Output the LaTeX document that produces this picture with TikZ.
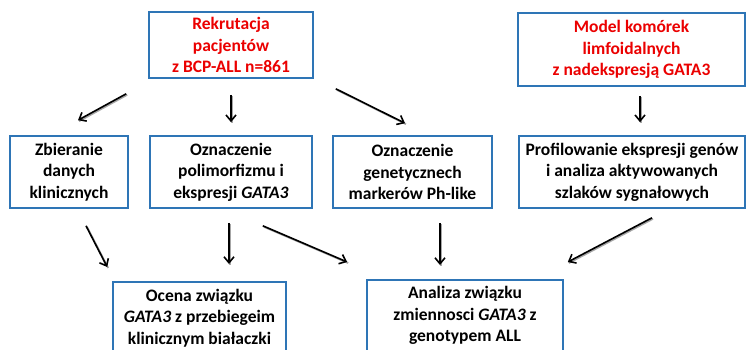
\documentclass[tikz,border=0pt]{standalone}
\usepackage{fontspec}
\setmainfont{Carlito}
\usepackage{xcolor}
\usepackage{tikz}
\usetikzlibrary{positioning}
\usetikzlibrary{arrows.meta}
\usetikzlibrary{shadows}
\definecolor{boxblue}{RGB}{46,117,182}
\definecolor{titlered}{RGB}{235,0,0}

\begin{document}
\begin{tikzpicture}[x=1pt,y=1pt,
  box/.style={draw=boxblue, line width=1.6pt, fill=white, align=center,
    inner sep=2pt, minimum height=72pt,
    font=\fontsize{17.5}{21.5}\selectfont\bfseries,
    drop shadow={opacity=0.35, shadow xshift=1.2pt, shadow yshift=-1.2pt}},
  arr/.style={line width=1.6pt, -{Straight Barb[length=6pt,width=10pt]},
    preaction={draw=black!35, line width=1.8pt, transform canvas={xshift=1pt,yshift=-1pt}, -}}]
\useasboundingbox (0,0) rectangle (755,-349);
% top line
\node[box, text=titlered, minimum width=164pt, minimum height=66pt] (recruit) at (231,-45)
  {Rekrutacja\\pacjentów\\z BCP-ALL n=861};
\node[box, text=titlered, minimum width=227pt, minimum height=73pt] (model) at (631.5,-49.5)
  {Model komórek\\limfoidalnych\\z nadekspresją GATA3};
% second line
\node[box, minimum width=162pt] (polim) [below=56.4pt of recruit]
  {Oznaczenie\\polimorfizmu i\\ekspresji \textit{GATA3}};
\node[box, minimum width=118pt] (clinic) [left=20.4pt of polim]
  {Zbieranie\\danych\\klinicznych};
\node[box, minimum width=159pt] (phlike) [right=19.4pt of polim]
  {Oznaczenie\\genetycznech\\markerów Ph-like};
\node[box, minimum width=226pt] (profile) [right=25.4pt of phlike]
  {Profilowanie ekspresji genów\\i analiza aktywowanych\\szlaków sygnałowych};
% third line
\node[box, minimum width=173pt, anchor=north] (course) at (199.5,-281)
  {Ocena związku\\\textit{GATA3} z przebiegeim\\klinicznym białaczki};
\node[box, minimum width=196pt, anchor=north] (genotype) at (465,-279)
  {Analiza związku\\zmiennosci \textit{GATA3} z\\genotypem ALL};
% arrows
\draw[arr] ([xshift=-22pt,yshift=-15pt]recruit.south west) -- ([xshift=9pt,yshift=15pt]clinic.north);
\draw[arr] ([yshift=-16pt]recruit.south) -- ([yshift=13pt]polim.north);
\draw[arr] ([xshift=22pt,yshift=-10pt]recruit.south east) -- ([xshift=-7.5pt,yshift=12pt]phlike.north);
\draw[arr] ([xshift=8.5pt,yshift=-9pt]model.south) -- ([xshift=8.5pt,yshift=13pt]profile.north -| model.south);
\draw[arr] ([xshift=17pt,yshift=-17pt]clinic.south) -- ([xshift=-5pt,yshift=14pt]course.north west);
\draw[arr] ([xshift=-2pt,yshift=-14pt]polim.south) -- ([xshift=29.5pt,yshift=17pt]course.north);
\draw[arr] ([xshift=-50pt,yshift=-17pt]polim.south east) -- ([xshift=-19pt,yshift=17pt]genotype.north west);
\draw[arr] ([xshift=27.5pt,yshift=-14pt]phlike.south) -- ([xshift=-25pt,yshift=14pt]genotype.north);
\draw[arr] ([xshift=20pt,yshift=-9pt]profile.south) -- ([xshift=4pt,yshift=17pt]genotype.north east);
\end{tikzpicture}
\end{document}
